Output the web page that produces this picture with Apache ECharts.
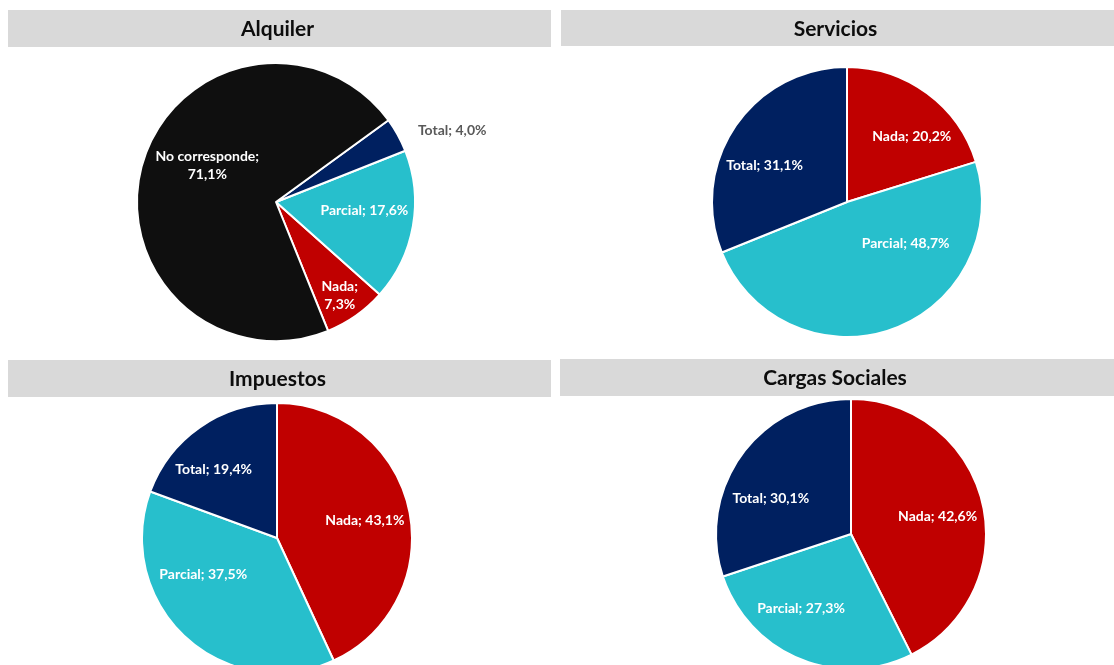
<!DOCTYPE html>
<html>
<head>
<meta charset="utf-8">
<script src="https://cdn.jsdelivr.net/npm/echarts@6/dist/echarts.min.js"></script>
<style>
html,body{margin:0;padding:0;background:#fff;}
#chart{width:1114px;height:665px;}
</style>
</head>
<body>
<div id="chart"></div>
<script>
// ---- data ----
const panelTitles = ['Alquiler', 'Servicios', 'Impuestos', 'Cargas Sociales'];
const alquilerNames = ['Nada', 'Parcial', 'Total', 'No corresponde'];
const alquilerValues = [7.3, 17.6, 4.0, 71.1];
const serviciosNames = ['Nada', 'Parcial', 'Total'];
const serviciosValues = [20.2, 48.7, 31.1];
const impuestosNames = ['Nada', 'Parcial', 'Total'];
const impuestosValues = [43.1, 37.5, 19.4];
const cargasNames = ['Nada', 'Parcial', 'Total'];
const cargasValues = [42.6, 27.3, 30.1];

// ---- style ----
const colorMap = {
  'Nada': '#C00000',
  'Parcial': '#27BFCC',
  'Total': '#002060',
  'No corresponde': '#0F0F0F'
};
const FONT = 'Lato';

function fmtPct(v) { return v.toFixed(1).replace('.', ',') + '%'; }

function makeSeries(names, values, opts) {
  const data = names.map((n, i) => ({
    name: n,
    value: values[i],
    itemStyle: { color: colorMap[n] }
  }));
  const shifts = opts.shifts || [];
  const wrap = opts.wrap || [];
  const outside = opts.outside || [];
  data.forEach((d, i) => {
    if (outside.indexOf(d.name) >= 0) {
      d.label = { position: 'outside', color: '#595959' };
      d.labelLine = { show: false };
    }
  });
  return {
    type: 'pie',
    center: opts.center,
    radius: [0, opts.r],
    startAngle: opts.startAngle,
    clockwise: opts.clockwise,
    animation: false,
    silent: true,
    itemStyle: { borderColor: '#ffffff', borderWidth: 2 },
    label: {
      show: true,
      position: 'inside',
      color: '#ffffff',
      fontFamily: FONT,
      fontWeight: 'bold',
      fontSize: 14,
      lineHeight: 18,
      align: 'center',
      formatter: p => wrap.indexOf(p.name) >= 0
        ? p.name + ';\n' + fmtPct(p.value)
        : p.name + '; ' + fmtPct(p.value)
    },
    labelLine: { show: false },
    labelLayout: function (params) {
      const s = shifts[params.dataIndex] || [0, 0];
      return { dx: s[0], dy: s[1] };
    },
    data: data
  };
}

const bars = [
  { x: 8, y: 10, w: 543, h: 37 },
  { x: 561, y: 10, w: 553, h: 36 },
  { x: 8, y: 360, w: 543, h: 37 },
  { x: 560, y: 359, w: 554, h: 37 }
];
const graphics = [];
bars.forEach((b, i) => {
  graphics.push({
    type: 'rect', silent: true,
    shape: { x: b.x, y: b.y, width: b.w, height: b.h },
    style: { fill: '#D9D9D9' }
  });
  graphics.push({
    type: 'text', silent: true,
    x: b.x + b.w / 2 - 2, y: b.y + b.h / 2 + 1,
    style: {
      text: panelTitles[i],
      fill: '#0D0D0D',
      font: 'bold 21px ' + FONT,
      textAlign: 'center',
      textVerticalAlign: 'middle'
    }
  });
});

const chart = echarts.init(document.getElementById('chart'), null, { renderer: 'canvas' });
chart.setOption({
  backgroundColor: '#ffffff',
  animation: false,
  graphic: graphics,
  series: [
    makeSeries(alquilerNames, alquilerValues, {
      center: [276, 202], r: 139, startAngle: -68, clockwise: false,
      wrap: ['Nada', 'No corresponde'], outside: ['Total'],
      shifts: [[22, 34], [17, -4], [-28, 3], [1, -17]]
    }),
    makeSeries(serviciosNames, serviciosValues, {
      center: [847, 202], r: 135, startAngle: 90, clockwise: true,
      shifts: [[23, -9], [35, -25], [-24, 3]]
    }),
    makeSeries(impuestosNames, impuestosValues, {
      center: [277, 538], r: 135, startAngle: 90, clockwise: true,
      shifts: [[19, -2], [-26, -15], [-23, -11]]
    }),
    makeSeries(cargasNames, cargasValues, {
      center: [851, 534], r: 135, startAngle: 90, clockwise: true,
      shifts: [[18, -1], [-23, 9], [-23, 6]]
    })
  ]
});
</script>
</body>
</html>
